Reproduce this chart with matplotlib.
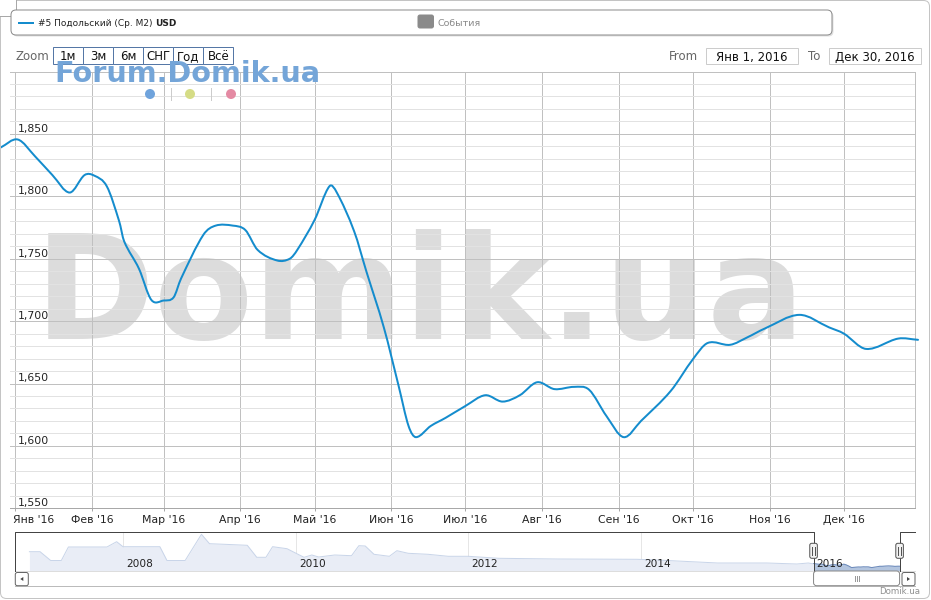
import numpy as np
import matplotlib
matplotlib.use("Agg")
import matplotlib.pyplot as plt
import matplotlib.dates as mdates
import matplotlib.transforms as mtransforms
from matplotlib.patches import FancyBboxPatch, Rectangle, Circle, PathPatch, Polygon
from matplotlib.path import Path
from matplotlib.ticker import FixedLocator, FixedFormatter, MultipleLocator

plt.rcParams['font.family'] = ['DejaVu Sans']

# ---------------- data ----------------
dates = ["2015-12-26", "2016-01-02", "2016-01-09", "2016-01-16", "2016-01-23", "2016-01-29",
         "2016-02-02", "2016-02-07", "2016-02-12", "2016-02-14", "2016-02-20", "2016-02-25",
         "2016-03-01", "2016-03-05", "2016-03-08", "2016-03-17", "2016-03-22", "2016-03-29",
         "2016-04-03", "2016-04-08", "2016-04-16", "2016-04-21", "2016-04-24", "2016-05-01",
         "2016-05-07", "2016-05-10", "2016-05-17", "2016-05-22", "2016-05-29", "2016-06-04",
         "2016-06-08", "2016-06-11", "2016-06-17", "2016-06-23", "2016-07-01", "2016-07-09",
         "2016-07-16", "2016-07-23", "2016-07-30", "2016-08-06", "2016-08-14", "2016-08-20",
         "2016-08-27", "2016-09-03", "2016-09-10", "2016-09-22", "2016-10-01", "2016-10-07",
         "2016-10-16", "2016-10-23", "2016-10-30", "2016-11-13", "2016-11-25", "2016-12-01",
         "2016-12-10", "2016-12-23", "2016-12-31"]
values = [1839, 1845.5, 1832, 1817, 1803, 1817,
          1816.5, 1808, 1780, 1764, 1742, 1717,
          1716.5, 1719, 1734, 1769, 1776.5, 1776.5,
          1773, 1757, 1748.5, 1750, 1757, 1781,
          1808, 1803, 1772, 1739.5, 1695, 1648,
          1616, 1607, 1616, 1622.5, 1632, 1640.6,
          1635.5, 1640.6, 1651, 1645.5, 1647.3, 1645,
          1624, 1607, 1620, 1644, 1669.5, 1682.5,
          1681, 1687, 1694, 1705, 1695, 1690,
          1677.7, 1686, 1685]

month_ticks = ["2016-01-01", "2016-02-01", "2016-03-01", "2016-04-01", "2016-05-01", "2016-06-01",
               "2016-07-01", "2016-08-01", "2016-09-01", "2016-10-01", "2016-11-01", "2016-12-01"]
month_labels = ["Янв '16", "Фев '16", "Мар '16", "Апр '16", "Май '16", "Июн '16",
                "Июл '16", "Авг '16", "Сен '16", "Окт '16", "Ноя '16", "Дек '16"]
y_ticks = [1550, 1600, 1650, 1700, 1750, 1800, 1850, 1900]
y_labels = ["1,550", "1,600", "1,650", "1,700", "1,750", "1,800", "1,850", ""]

nav_dates = ["2006-12-01", "2007-01-15", "2007-03-01", "2007-04-15", "2007-05-15", "2007-10-25",
             "2007-12-05", "2008-01-01", "2008-06-05", "2008-07-05", "2008-09-20", "2008-11-28",
             "2009-01-01", "2009-03-05", "2009-06-10", "2009-07-20", "2009-08-28", "2009-09-25",
             "2009-11-25", "2010-01-08", "2010-02-05", "2010-03-10", "2010-04-08", "2010-06-15",
             "2010-08-25", "2010-09-25", "2010-10-22", "2010-11-28", "2011-02-01", "2011-03-05",
             "2011-04-22", "2011-07-15", "2011-10-08", "2012-01-01", "2012-05-08", "2013-01-15",
             "2013-12-15", "2014-03-10", "2014-08-28", "2014-11-22", "2015-06-18", "2015-10-22",
             "2015-12-10"]
nav_values = [2558, 2558, 2030, 2030, 2840, 2840,
              3158, 2858, 2858, 2030, 2030, 3602,
              3038, 3002, 2942, 2222, 2222, 2858,
              2738, 2420, 2222, 2360, 2240, 2360,
              2318, 2918, 2900, 2402, 2282, 2618,
              2462, 2402, 2282, 2282, 2162, 2120,
              2102, 2060, 1940, 1880, 1880, 1820,
              1880]
nav_years = ["2008-01-01", "2010-01-01", "2012-01-01", "2014-01-01", "2016-01-01"]
nav_year_labels = ["2008", "2010", "2012", "2014", "2016"]

series_name = "#5 Подольский (Ср. M2) "
series_unit = "USD"
events_name = "События"
zoom_buttons = ["1м", "3м", "6м", "СНГ", "Год", "Всё"]
range_from = "Янв 1, 2016"
range_to = "Дек 30, 2016"
sel_start = "2016-01-01"
sel_end = "2016-12-30"

# ---------------- layout helpers ----------------
W, H = 931, 600
fig = plt.figure(figsize=(W / 100, H / 100), dpi=100)
fig.patch.set_facecolor('white')


def box(x0, y0, x1, y1):
    return [x0 / W, 1 - y1 / H, (x1 - x0) / W, (y1 - y0) / H]


PX = 0.72  # points per pixel
LINE = '#148ccd'

def dnum(s):
    return mdates.date2num(np.datetime64(s))

xd = np.array([dnum(d) for d in dates])
yv = np.array(values, dtype=float)

# ---------------- background watermark ----------------
bg = fig.add_axes([0, 0, 1, 1], zorder=0)
bg.set_xlim(0, W); bg.set_ylim(H, 0); bg.axis('off')
bg.text(35, 339, 'Domik.ua', fontsize=104, fontweight='bold', family='DejaVu Sans',
        color='#dcdcdc', ha='left', va='baseline')

# ---------------- main axes ----------------
ax = fig.add_axes(box(10, 71.5, 915.3, 508.3), zorder=1)
ax.patch.set_alpha(0)
jan1 = dnum("2016-01-01")
ax.set_xlim(jan1 - 2.14, jan1 + 363.9)
ax.set_ylim(1550, 1900)

mt = [dnum(d) for d in month_ticks]
ax.xaxis.set_major_locator(FixedLocator(mt))
ax.xaxis.set_major_formatter(FixedFormatter(month_labels))
ax.yaxis.set_major_locator(FixedLocator(y_ticks))
ax.yaxis.set_major_formatter(FixedFormatter(y_labels))
ax.yaxis.set_minor_locator(MultipleLocator(10))

ax.grid(True, axis='x', which='major', color='#c0c0c0', lw=PX)
ax.grid(True, axis='y', which='major', color='#c0c0c0', lw=PX)
ax.grid(True, axis='y', which='minor', color='#e2e2e2', lw=PX)
ax.set_axisbelow(True)

for s in ['left', 'top']:
    ax.spines[s].set_visible(False)
ax.spines['right'].set_color('#c0c0c0'); ax.spines['right'].set_linewidth(PX)
ax.spines['bottom'].set_color('#a8a8a8'); ax.spines['bottom'].set_linewidth(PX)

ax.tick_params(axis='x', which='major', length=3 * PX, width=PX, color='#a8a8a8',
               labelsize=7.8, labelcolor='#222222', pad=2.5)
ax.tick_params(axis='y', which='both', length=0, labelsize=7.8, labelcolor='#222222',
               pad=-5.3)
for lab in ax.get_yticklabels():
    lab.set_ha('left'); lab.set_va('bottom')
xl = ax.get_xticklabels()
xl[0].set_ha('left')
xl[0].set_transform(xl[0].get_transform() + mtransforms.ScaledTranslation(-2.6 / 100, 0, fig.dpi_scale_trans))


def smooth_path(xs, ys):
    n = len(xs)
    m = np.empty(n)
    m[1:-1] = (ys[2:] - ys[:-2]) / (xs[2:] - xs[:-2])
    m[0] = (ys[1] - ys[0]) / (xs[1] - xs[0])
    m[-1] = (ys[-1] - ys[-2]) / (xs[-1] - xs[-2])
    verts = [(xs[0], ys[0])]
    codes = [Path.MOVETO]
    for i in range(n - 1):
        h = xs[i + 1] - xs[i]
        verts += [(xs[i] + h / 3, ys[i] + m[i] * h / 3),
                  (xs[i + 1] - h / 3, ys[i + 1] - m[i + 1] * h / 3),
                  (xs[i + 1], ys[i + 1])]
        codes += [Path.CURVE4] * 3
    return Path(verts, codes)


ax.add_patch(PathPatch(smooth_path(xd, yv), facecolor='none', edgecolor=LINE,
                       lw=2 * PX, clip_on=False, zorder=5, capstyle='round', joinstyle='round'))

# ---------------- navigator ----------------
nav = fig.add_axes(box(15, 531.7, 915.3, 571), zorder=2)
nav.patch.set_alpha(0)
y2008 = dnum("2008-01-01")
nav.set_xlim(y2008 - 457, y2008 + 3352.5)
nav.set_ylim(1400, 1400 + 39.3 * 60)
nav.axis('off')
nx = np.concatenate([[dnum(d) for d in nav_dates], xd])
nv = np.concatenate([np.array(nav_values, float), yv])
for yd in nav_years:
    nav.axvline(dnum(yd), color='#e6e6e6', lw=PX, zorder=0)
nav.fill_between(nx, nv, 1400, color='#e9edf6', lw=0, zorder=1)
nav.plot(nx, nv, color='#c9d5e9', lw=PX, zorder=2)
s0, s1 = dnum(sel_start), dnum(sel_end)
sel = nx >= s0
nav.fill_between(nx[sel], nv[sel], 1400, color='#b3c5df', lw=0, zorder=3)
nav.plot(nx[sel], nv[sel], color='#6d8bbb', lw=PX, zorder=4)
btr = mtransforms.blended_transform_factory(nav.transData, nav.transAxes)
for yd, yl in zip(nav_years, nav_year_labels):
    nav.text(dnum(yd), 0, yl, transform=mtransforms.offset_copy(btr, fig=fig, x=3, y=4, units='dots'),
             fontsize=7.6, color='#222222', ha='left', va='baseline', zorder=6)

hx0 = nav.transData.transform((s0, 1400))[0]
hx1 = nav.transData.transform((s1, 1400))[0]

# ---------------- overlay (UI chrome) ----------------
ov = fig.add_axes([0, 0, 1, 1], zorder=3)
ov.set_xlim(0, W); ov.set_ylim(H, 0); ov.axis('off'); ov.patch.set_alpha(0)


def rbox(x0, y0, x1, y1, r=0, fc='white', ec='#999999', lw=1, z=1, alpha=1):
    p = FancyBboxPatch((x0 + r, y0 + r), (x1 - x0) - 2 * r, (y1 - y0) - 2 * r,
                       boxstyle=f"round,pad={r}" if r > 0 else "square,pad=0",
                       fc=fc, ec=ec, lw=lw * PX, zorder=z, alpha=alpha)
    ov.add_patch(p)
    return p

# outer frame
rbox(0.5, 0.5, 929.5, 598.5, r=6, fc='none', ec='#c4c4c4', z=0.5)
rbox(-6, -6, 16.5, 16.5, r=4, fc='white', ec='#a8a8a8', z=1)

# legend
rbox(12.5, 11.5, 833.5, 36.5, r=5, fc='#000000', ec='none', z=1, alpha=0.12)
rbox(11, 10, 832, 35, r=5, fc='white', ec='#8c8c8c', z=2)
ov.plot([18, 34], [22.5, 22.5], color=LINE, lw=2 * PX, zorder=3, solid_capstyle='butt')
ov.text(38.5, 25.5, series_name, fontsize=6.5, color='#222222', ha='left', va='baseline', zorder=3)
ov.text(155.5, 25.5, series_unit, fontsize=6.5, fontweight='bold', color='#222222',
        ha='left', va='baseline', zorder=3)
rbox(418, 15, 433.5, 28, r=2, fc='#8a8a8a', ec='#8a8a8a', z=3)
ov.text(438, 25.5, events_name, fontsize=6.8, color='#8a8a8a', ha='left', va='baseline', zorder=3)

# range selector
ov.text(16, 60.5, 'Zoom', fontsize=8.5, color='#666666', ha='left', va='baseline', zorder=3)
for i, b in enumerate(zoom_buttons):
    x0 = 53.3 + 30 * i
    ov.add_patch(Rectangle((x0, 46.7), 30, 17.3, fc='white', ec='#5577a6', lw=PX, zorder=2))
    ov.text(x0 + 15, 60.5, b, fontsize=8.5, color='#111111', ha='center', va='baseline', zorder=4)
ov.text(669, 60.5, 'From', fontsize=8.5, color='#666666', ha='left', va='baseline', zorder=3)
ov.add_patch(Rectangle((705.5, 47.5), 92, 16.5, fc='white', ec='#cccccc', lw=PX, zorder=2))
ov.text(751.5, 60.5, range_from, fontsize=8.5, color='#111111', ha='center', va='baseline', zorder=3)
ov.text(808, 60.5, 'To', fontsize=8.5, color='#666666', ha='left', va='baseline', zorder=3)
ov.add_patch(Rectangle((829.3, 47.5), 91.5, 16.5, fc='white', ec='#cccccc', lw=PX, zorder=2))
ov.text(875, 60.5, range_to, fontsize=8.5, color='#111111', ha='center', va='baseline', zorder=3)

# forum watermark + dots
ov.text(54, 81.7, 'Forum.Domik.ua', fontsize=20.7, fontweight='bold', color='#74a5d8',
        ha='left', va='baseline', zorder=5)
for cx, c in [(150, '#6fa3dc'), (190, '#d5dc86'), (231, '#e48aa3')]:
    ov.add_patch(Circle((cx, 94), 5, fc=c, ec='none', zorder=5))
for sx in [170.5, 211]:
    ov.plot([sx, sx], [88, 100], color='#cccccc', lw=PX, zorder=5)

# navigator outline
oc = '#444444'
ov.plot([15.3, 15.3, hx0, hx0], [571, 531.7, 531.7, 571], color=oc, lw=PX, zorder=4)
ov.plot([hx1, hx1, 915.3], [571, 531.7, 531.7], color=oc, lw=PX, zorder=4)
# scrollbar
ov.plot([15.3, 915.3], [585.7, 585.7], color='#bbbbbb', lw=PX, zorder=3)
ov.plot([15.3, 915.3], [571, 571], color='#dddddd', lw=PX, zorder=3)
rbox(15.3, 572.5, 28.3, 585.7, r=2, fc='white', ec='#666666', z=4)
ov.add_patch(Polygon([[20.3, 579], [23.3, 577], [23.3, 581]], closed=True, fc='#444444', ec='none', zorder=5))
rbox(902, 572.5, 915, 585.7, r=2, fc='white', ec='#666666', z=4)
ov.add_patch(Polygon([[910, 579], [907, 577], [907, 581]], closed=True, fc='#444444', ec='none', zorder=5))
rbox(hx0, 571, hx1, 585.7, r=3, fc='white', ec='#888888', z=4)
gx = (hx0 + hx1) / 2
for dx in [-2, 0, 2]:
    ov.plot([gx + dx, gx + dx], [576, 581], color='#999999', lw=PX, zorder=5)
# handles
for hx in [hx0, hx1]:
    rbox(hx - 3.8, 543.3, hx + 3.8, 558.3, r=2, fc='#f2f2f2', ec='#555555', z=6)
    for dx in [-1.3, 1.3]:
        ov.plot([hx + dx, hx + dx], [546.5, 555], color='#555555', lw=PX, zorder=7)

# credits
ov.text(920, 594, 'Domik.ua', fontsize=6.2, color='#909090', ha='right', va='baseline', zorder=3)

fig.savefig('out.png', dpi=100)
